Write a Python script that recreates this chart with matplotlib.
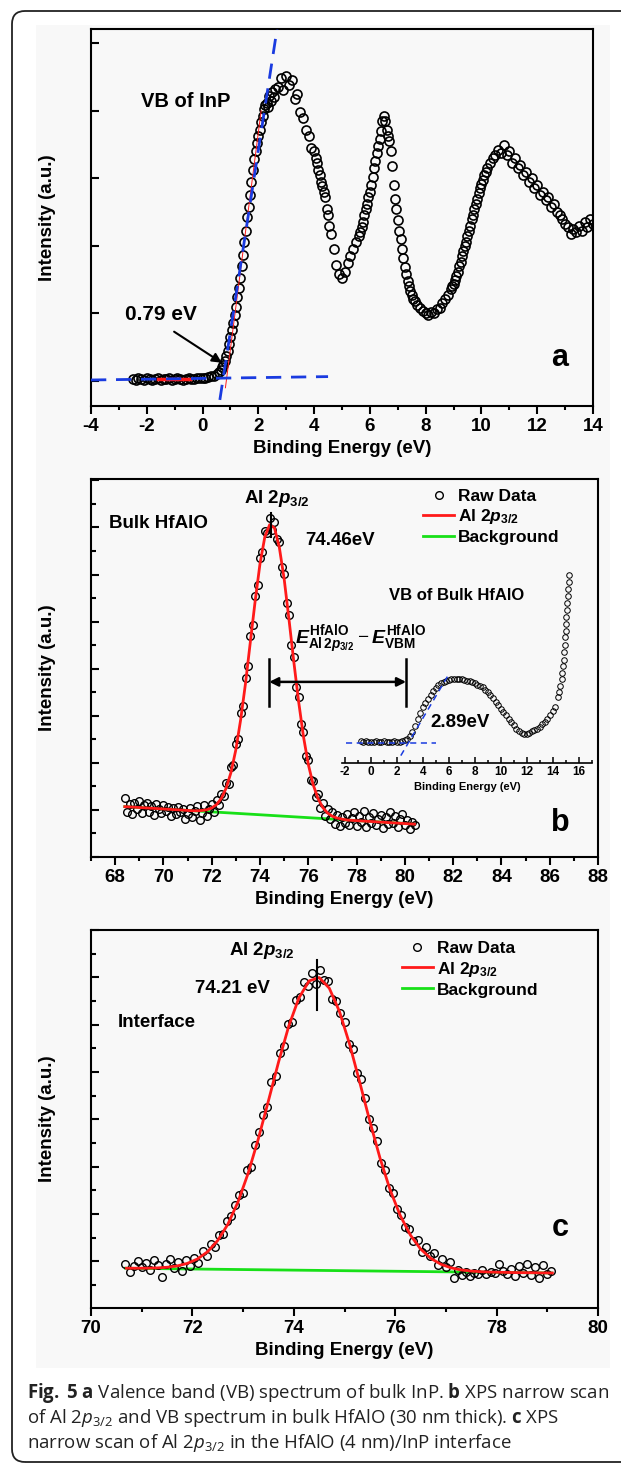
import numpy as np
import matplotlib.pyplot as plt
from matplotlib.patches import FancyBboxPatch, Rectangle
from matplotlib.transforms import IdentityTransform
from matplotlib.ticker import MultipleLocator

plt.rcParams['font.family'] = ['Liberation Sans', 'DejaVu Sans']
plt.rcParams['font.weight'] = 'bold'
plt.rcParams['axes.unicode_minus'] = False
plt.rcParams['mathtext.fontset'] = 'custom'
plt.rcParams['mathtext.rm'] = 'Open Sans:normal'
plt.rcParams['mathtext.bf'] = 'Open Sans:bold'
plt.rcParams['mathtext.sf'] = 'Open Sans:italic:normal'
plt.rcParams['mathtext.it'] = 'Liberation Sans:bold:italic'
plt.rcParams['mathtext.tt'] = 'Liberation Sans:bold'

# ---------------- panel a : VB of InP (energy grid pieces: start, step) ----------------
a_y_flat = [0.03, 0.02, 0.04, 0.03, 0.02, 0.04, 0.03, 0.02, 0.03, 0.04, 0.02, 0.03, 0.03, 0.04,
            0.02, 0.03, 0.04, 0.03, 0.02, 0.03, 0.04, 0.03, 0.03, 0.04, 0.04, 0.05, 0.05, 0.06,
            0.07, 0.08, 0.10, 0.13]                                   # -2.5 .. 0.6, 0.1
a_y_onset = [0.16, 0.20, 0.24, 0.30, 0.37, 0.45, 0.55, 0.65, 0.76, 0.86, 0.98, 1.10, 1.24, 1.38,
             1.52, 1.70, 1.86, 2.05, 2.22, 2.42, 2.58, 2.76, 2.95, 3.12, 3.28, 3.40, 3.52, 3.62,
             3.72, 3.84, 3.92, 4.02, 4.08, 4.12, 4.05, 4.22, 4.15, 4.28, 4.20, 4.32]  # 0.65 .. 2.6, 0.05
a_y_peak1 = [4.35, 4.48, 4.30, 4.52, 4.38, 4.45, 4.18, 4.25, 3.98, 3.90, 3.72, 3.62, 3.45, 3.40]  # 2.7 .. 4.0
a_y_fall1 = [3.30, 3.22, 3.12, 3.05, 2.95, 2.88, 2.80, 2.72, 2.55, 2.45, 2.30, 2.18]  # 4.05 .. 4.6
a_y_dip1 = [1.95, 1.72, 1.58, 1.52, 1.62, 1.75, 1.85, 1.95, 2.05, 2.15]  # 4.7 .. 5.6
a_y_peak2 = [2.20, 2.28, 2.35, 2.45, 2.55, 2.62, 2.72, 2.80, 2.90, 3.02, 3.15, 3.25, 3.38, 3.48,
             3.58, 3.70, 3.85, 3.92, 3.85, 3.72, 3.62, 3.55, 3.40, 3.18, 2.90, 2.70, 2.55, 2.38,
             2.22, 2.10, 1.95, 1.82, 1.68, 1.58, 1.48, 1.40, 1.33, 1.27, 1.22, 1.18]  # 5.65 .. 7.6
a_y_dip2 = [1.12, 1.08, 1.03, 1.00, 0.98, 1.02, 1.00, 1.06, 1.08, 1.15, 1.22, 1.28, 1.36]  # 7.7 .. 8.9
a_y_rise3 = [1.40, 1.44, 1.50, 1.55, 1.62, 1.70, 1.76, 1.85, 1.92, 2.00, 2.06, 2.14, 2.22, 2.30,
             2.40, 2.46, 2.55, 2.62, 2.70, 2.78, 2.85, 2.92, 2.98, 3.05, 3.10, 3.15]  # 8.95 .. 10.2
a_y_peak3 = [3.22, 3.30, 3.35, 3.42, 3.38, 3.50, 3.35, 3.40, 3.22, 3.30, 3.15, 3.20, 3.05, 3.10,
             2.95, 3.00, 2.85, 2.90, 2.75, 2.80, 2.68, 2.72, 2.58, 2.62, 2.50, 2.45, 2.40, 2.32,
             2.28, 2.18, 2.25, 2.20, 2.30, 2.22, 2.35, 2.28, 2.40, 2.32]  # 10.3 .. 14.0

a_tangent_x = [0.62, 2.67]
a_tangent_y = [-0.28, 5.21]
a_base_x = [-4.0, 4.5]
a_base_y = [0.015, 0.065]
a_redfit_x = [-1.6, -0.45]
a_redfit_y = [0.03, 0.03]
a_redrise_x = [0.82, 2.1]
a_redrise_y = [-0.1, 4.0]

# ---------------- panel b : Al 2p3/2 in bulk HfAlO ----------------
b_raw_y = [0.25, -0.05, 0.12, -0.08, 0.15, 0.02, 0.18, -0.06, 0.10, 0.14, -0.04, 0.08, -0.10,
           0.12, 0.03, -0.07, 0.10, -0.02, 0.06, -0.12, 0.04, -0.09, 0.07, -0.05, 0.02, -0.20,
           -0.08, 0.05, -0.14, -0.03, 0.08, -0.22, -0.06, 0.10, -0.12, 0.02,
           0.12, -0.05, 0.22, 0.10, 0.34, 0.30, 0.58, 0.55, 0.92, 0.95, 1.40, 1.50, 2.05, 2.20,
           2.80, 3.05, 3.70, 3.92, 4.55, 4.78, 5.35, 5.48, 5.92, 5.88, 6.20, 5.95, 6.12, 5.75,
           5.70, 5.15, 5.02, 4.40, 4.15, 3.50, 3.25, 2.62, 2.40, 1.82, 1.66, 1.15, 1.07, 0.64,
           0.62, 0.28, 0.34, 0.04, 0.15, -0.12, 0.02, -0.20, -0.05,
           -0.30, -0.10, -0.35, -0.15, -0.28, -0.08, -0.32, -0.18, -0.05, -0.34, -0.12, -0.25,
           -0.02, -0.36, -0.15, -0.28, -0.06, -0.33, -0.20, -0.10, -0.38, -0.16, -0.30, -0.05,
           -0.27, -0.12, -0.36, -0.20, -0.09, -0.33, -0.22, -0.40, -0.25, -0.32]  # 68.4 .. 80.4, 0.1
b_fit_y = [0.07, 0.064, 0.058, 0.051, 0.045, 0.039, 0.033, 0.027, 0.020, 0.014, 0.008, 0.002,
           -0.004, -0.011, -0.017, -0.018, -0.011, 0.004, 0.04, 0.114, 0.246, 0.465, 0.80, 1.28,
           1.92, 2.69, 3.57, 4.44, 5.23, 5.80, 6.06, 5.99, 5.58, 4.91, 4.05, 3.15, 2.30, 1.56,
           0.97, 0.54, 0.245, 0.052, -0.066, -0.135, -0.174, -0.196, -0.215, -0.221, -0.228,
           -0.234, -0.240, -0.246, -0.252, -0.259, -0.265, -0.271, -0.277, -0.283, -0.290,
           -0.296, -0.302]  # 68.4 .. 80.4, 0.2
b_bg_x = [68.4, 80.4]
b_bg_y = [0.07, -0.30]

# inset : VB of bulk HfAlO
vb_y = [1.08, 1.05, 1.10, 1.04, 1.07, 1.05, 1.09, 1.04, 1.06, 1.08, 1.05, 1.07, 1.04, 1.08,
        1.06, 1.07, 1.10, 1.15, 1.22, 1.35, 1.55, 1.85, 2.20, 2.50, 2.78, 3.02, 3.22, 3.42,
        3.58, 3.75, 3.88, 3.98, 4.05, 4.12, 4.15, 4.20, 4.18, 4.22, 4.19, 4.20, 4.15, 4.12,
        4.10, 4.05, 4.00, 3.92, 3.85, 3.78, 3.66, 3.55, 3.38, 3.25, 3.05, 2.90, 2.72, 2.55,
        2.38, 2.20, 2.05, 1.88, 1.72, 1.58, 1.50, 1.46, 1.47, 1.52, 1.58, 1.64, 1.72, 1.82,
        1.95, 2.07, 2.22, 2.40, 2.60, 2.82, 3.30]  # -0.8 .. 14.4, 0.2
vb_tail_x = [14.5, 14.6, 14.7, 14.75, 14.8, 14.85, 14.9, 14.93, 14.96, 15.0, 15.03, 15.06,
             15.1, 15.13, 15.16, 15.2, 15.23, 15.25]
vb_tail_y = [3.55, 3.85, 4.2, 4.5, 4.85, 5.15, 5.55, 5.9, 6.3, 6.6, 6.95, 7.3, 7.65, 8.0, 8.35,
             8.7, 9.05, 9.4]
vb_base_x = [-1.95, 5.0]
vb_base_y = [1.02, 1.02]
vb_tan_x = [2.3, 6.0]
vb_tan_y = [0.37, 4.44]

# ---------------- panel c : Al 2p3/2 at interface ----------------
c_raw_y = [-0.05, -0.22, -0.10, 0.00, -0.12, -0.03, -0.18, 0.02, -0.08, -0.34, -0.05, 0.04,
           -0.15, -0.02, -0.20, 0.03, -0.10, 0.06, -0.04, 0.22, 0.10, 0.36, 0.30, 0.55, 0.58,
           0.85, 0.95, 1.18, 1.40, 1.45, 1.92, 2.00, 2.45, 2.72, 3.10, 3.25, 3.78, 3.92, 4.40,
           4.55, 5.02, 5.05, 5.52, 5.58, 5.90, 5.82, 6.10, 5.85, 6.15, 5.95, 5.92, 5.55, 5.50,
           5.25, 5.05, 4.60, 4.48, 3.98, 3.85, 3.45, 3.00, 2.82, 2.55, 2.08, 1.92, 1.55, 1.45,
           1.10, 0.98, 0.72, 0.68, 0.42, 0.45, 0.20, 0.30, 0.10, 0.18, -0.08, 0.05, -0.12,
           -0.02, -0.35, -0.18, -0.30, -0.22, -0.32, -0.25, -0.28, -0.18, -0.27, -0.22, -0.26,
           -0.05, -0.20, -0.28, -0.16, -0.32, -0.10, -0.25, -0.05, -0.30, -0.12, -0.35, -0.08,
           -0.28, -0.20]  # 70.68 .. 79.08, 0.08
c_fit_y = [-0.149, -0.149, -0.148, -0.143, -0.129, -0.101, -0.047, 0.046, 0.200, 0.438, 0.781,
           1.254, 1.859, 2.584, 3.391, 4.212, 4.967, 5.563, 5.923, 5.996, 5.770, 5.279, 4.589,
           3.783, 2.956, 2.180, 1.505, 0.963, 0.551, 0.258, 0.061, -0.065, -0.141, -0.185,
           -0.210, -0.223, -0.232, -0.236, -0.240, -0.243, -0.245, -0.248, -0.250]  # 70.7 .. 79.1, 0.2
c_bg_x = [70.68, 79.08]
c_bg_y = [-0.15, -0.25]


def grid(start, step, values):
    return start + step * np.arange(len(values))


a_x = np.concatenate([grid(-2.5, 0.1, a_y_flat), grid(0.65, 0.05, a_y_onset),
                      grid(2.7, 0.1, a_y_peak1), grid(4.05, 0.05, a_y_fall1),
                      grid(4.7, 0.1, a_y_dip1), grid(5.65, 0.05, a_y_peak2),
                      grid(7.7, 0.1, a_y_dip2), grid(8.95, 0.05, a_y_rise3),
                      grid(10.3, 0.1, a_y_peak3)])
a_y = np.concatenate([a_y_flat, a_y_onset, a_y_peak1, a_y_fall1, a_y_dip1, a_y_peak2,
                      a_y_dip2, a_y_rise3, a_y_peak3])

W, H = 621, 1464
fig = plt.figure(figsize=(W / 100, H / 100), dpi=100)

BLUE = '#1a3be0'
RED = '#ff1a1a'
GREEN = '#18e018'
AL = r'Al 2$\mathit{p}_{\mathtt{3/2}}$'


def px_axes(l, t, r, b):
    return fig.add_axes([l / W, 1 - b / H, (r - l) / W, (b - t) / H])


def style(ax, width_px, major_x, y_major, y_minor=None):
    for s in ax.spines.values():
        s.set_linewidth(1.5)
    ax.set_facecolor('none')
    ax.xaxis.set_major_locator(MultipleLocator(major_x))
    ax.xaxis.set_minor_locator(MultipleLocator(major_x / 2))
    ax.yaxis.set_major_locator(MultipleLocator(y_major))
    if y_minor:
        ax.yaxis.set_minor_locator(MultipleLocator(y_minor))
    ax.tick_params(axis='x', which='both', direction='out', width=1.5, labelsize=13.5, pad=3)
    ax.tick_params(axis='x', which='major', length=5.5)
    ax.tick_params(axis='x', which='minor', length=3)
    ax.tick_params(axis='y', which='both', direction='in', width=1.5, labelleft=False)
    ax.tick_params(axis='y', which='major', length=6)
    ax.tick_params(axis='y', which='minor', length=3.5)
    ax.set_xlabel('Binding Energy (eV)', fontsize=13.5, fontweight='bold', labelpad=4)
    ax.set_ylabel('Intensity (a.u.)', fontsize=13.5, fontweight='bold', va='center')
    ax.yaxis.set_label_coords(-44 / width_px, 0.5)


# frame and light backdrop
fig.patches.append(Rectangle((36, H - 1368), 574, 1343, transform=IdentityTransform(),
                             facecolor='#f8f8f8', edgecolor='none', zorder=-10))
fig.patches.append(FancyBboxPatch((12, 2), 700, 1451, boxstyle='round,pad=0,rounding_size=13',
                                  transform=IdentityTransform(), fill=False, lw=1.3,
                                  ec='#222222', zorder=-5))

# ---------------- panel a ----------------
ax_a = px_axes(91, 29, 593, 406)
ax_a.plot(a_x, a_y, 'o', ms=6.5, mfc='none', mec='k', mew=1.2, zorder=2)
ax_a.plot(a_redfit_x, a_redfit_y, color=RED, lw=2.5, zorder=3)
ax_a.plot(a_redrise_x, a_redrise_y, color=RED, lw=0.7, zorder=3)
ax_a.plot(a_tangent_x, a_tangent_y, color=BLUE, lw=2, dashes=(5.5, 3.5), zorder=4)
ax_a.plot(a_base_x, a_base_y, color=BLUE, lw=2, dashes=(5.5, 3.5), zorder=4)
ax_a.set_xlim(-4, 14)
ax_a.set_ylim(-0.37, 5.21)
style(ax_a, 502, 2, 1)
ax_a.text(-0.6, 4.13, 'VB of InP', fontsize=14.5, ha='center', va='center')
ax_a.text(-1.5, 0.98, '0.79 eV', fontsize=15, ha='center', va='center')
ax_a.annotate('', xy=(0.69, 0.27), xytext=(-1.02, 0.73),
              arrowprops=dict(arrowstyle='-|>', lw=1.5, color='k', mutation_scale=14,
                              shrinkA=0, shrinkB=0))
ax_a.text(12.8, 0.34, 'a', fontsize=22, ha='center', va='center')

# ---------------- panel b ----------------
ax_b = px_axes(91, 479, 598, 857)
h_bg, = ax_b.plot(b_bg_x, b_bg_y, color=GREEN, lw=2, zorder=1.5, label='Background')
h_raw, = ax_b.plot(np.linspace(68.4, 80.4, len(b_raw_y)), b_raw_y, 'o', ms=5.5, mfc='none',
                   mec='k', mew=1.0, zorder=2, label='Raw Data')
h_fit, = ax_b.plot(np.linspace(68.4, 80.4, len(b_fit_y)), b_fit_y, color=RED, lw=2, zorder=3,
                   label=AL)
ax_b.set_xlim(67, 88)
ax_b.set_ylim(-1, 7.03)
style(ax_b, 507, 2, 1, 0.5)
ax_b.legend(handles=[h_raw, h_fit, h_bg], loc='upper left', bbox_to_anchor=(0.655, 0.975),
            frameon=False, borderaxespad=0, borderpad=0, handlelength=1.8, handletextpad=0.2,
            labelspacing=0.22, numpoints=1, prop={'size': 12.5, 'weight': 'bold'})
ax_b.plot([74.46, 74.46], [5.8, 6.3], color='k', lw=1.5, zorder=4)
ax_b.text(69.8, 6.09, 'Bulk HfAlO', fontsize=13.5, ha='center', va='center')
ax_b.text(74.7, 6.62, AL, fontsize=13.5, ha='center', va='center')
ax_b.text(77.3, 5.73, '74.46eV', fontsize=13.5, ha='center', va='center')
ax_b.text(78.15, 3.61, r'$\mathit{E}^{\mathtt{HfAlO}}_{\mathtt{Al\,2}\mathit{p}_{\mathtt{3/2}}}'
          r'-\mathit{E}^{\mathtt{HfAlO}}_{\mathtt{VBM}}$', fontsize=14, ha='center', va='center')
for xv in (74.38, 80.05):
    ax_b.plot([xv, xv], [2.2, 3.2], color='k', lw=1.8)
ax_b.annotate('', xy=(80.05, 2.72), xytext=(74.38, 2.72),
              arrowprops=dict(arrowstyle='<|-|>', lw=1.8, color='k', mutation_scale=13,
                              shrinkA=0, shrinkB=0))
ax_b.text(82.15, 4.56, 'VB of Bulk HfAlO', fontsize=12, ha='center', va='center')
ax_b.text(82.29, 1.85, '2.89eV', fontsize=13.5, ha='center', va='center')
ax_b.text(86.43, -0.28, 'b', fontsize=22, ha='center', va='center')

# inset
ax_in = px_axes(342.4, 563, 591.6, 763)
ax_in.set_facecolor('none')
ax_in.plot(grid(-0.8, 0.2, vb_y), vb_y, 'o', ms=4, mfc='none', mec='k', mew=0.7)
ax_in.plot(vb_tail_x, vb_tail_y, 'o', ms=4, mfc='none', mec='k', mew=0.7)
ax_in.plot(vb_base_x, vb_base_y, color=BLUE, lw=1.1, dashes=(4, 3))
ax_in.plot(vb_tan_x, vb_tan_y, color=BLUE, lw=1.1, dashes=(4, 3))
ax_in.set_xlim(-2.2, 17)
ax_in.set_ylim(0, 10)
for s in ('top', 'left', 'right'):
    ax_in.spines[s].set_visible(False)
ax_in.spines['bottom'].set_linewidth(1.2)
ax_in.set_yticks([])
ax_in.xaxis.set_major_locator(MultipleLocator(2))
ax_in.xaxis.set_minor_locator(MultipleLocator(1))
ax_in.tick_params(axis='x', which='both', direction='in', width=1.1, labelsize=8.5, pad=2)
ax_in.tick_params(axis='x', which='major', length=4)
ax_in.tick_params(axis='x', which='minor', length=2.5)
ax_in.set_xlabel('Binding Energy (eV)', fontsize=8, fontweight='bold', labelpad=3)

# ---------------- panel c ----------------
ax_c = px_axes(91, 930, 598, 1308)
hc_bg, = ax_c.plot(c_bg_x, c_bg_y, color=GREEN, lw=2, zorder=1.5, label='Background')
hc_raw, = ax_c.plot(grid(70.68, 0.08, c_raw_y), c_raw_y, 'o', ms=5.5, mfc='none', mec='k',
                    mew=1.0, zorder=2, label='Raw Data')
hc_fit, = ax_c.plot(grid(70.7, 0.2, c_fit_y), c_fit_y, color=RED, lw=2, zorder=3, label=AL)
ax_c.set_xlim(70, 80)
ax_c.set_ylim(-0.99, 7.0)
style(ax_c, 507, 2, 1, 0.5)
ax_c.legend(handles=[hc_raw, hc_fit, hc_bg], loc='upper left', bbox_to_anchor=(0.613, 0.972),
            frameon=False, borderaxespad=0, borderpad=0, handlelength=1.8, handletextpad=0.2,
            labelspacing=0.22, numpoints=1, prop={'size': 12.5, 'weight': 'bold'})
ax_c.plot([74.45, 74.45], [5.31, 6.36], color='k', lw=1.5, zorder=4)
ax_c.text(73.36, 6.57, AL, fontsize=13.5, ha='center', va='center')
ax_c.text(72.78, 5.77, '74.21 eV', fontsize=13.5, ha='center', va='center')
ax_c.text(71.29, 5.04, 'Interface', fontsize=13.5, ha='center', va='center')
ax_c.text(79.25, 0.7, 'c', fontsize=22, ha='center', va='center')

# caption
caption = [
    r'$\mathbf{Fig.\;5\;a}$ Valence band (VB) spectrum of bulk InP. $\mathbf{b}$ XPS narrow scan',
    r'of Al 2$\mathsf{p}_{\mathrm{3/2}}$ and VB spectrum in bulk HfAlO (30 nm thick). $\mathbf{c}$ XPS',
    r'narrow scan of Al 2$\mathsf{p}_{\mathrm{3/2}}$ in the HfAlO (4 nm)/InP interface',
]
for i, line in enumerate(caption):
    fig.text(27 / W, 1 - (1398 + 25 * i) / H, line, family='Open Sans', fontweight='normal',
             fontsize=13.4, ha='left', va='baseline', color='#222222')

fig.savefig('out.png', dpi=100)
